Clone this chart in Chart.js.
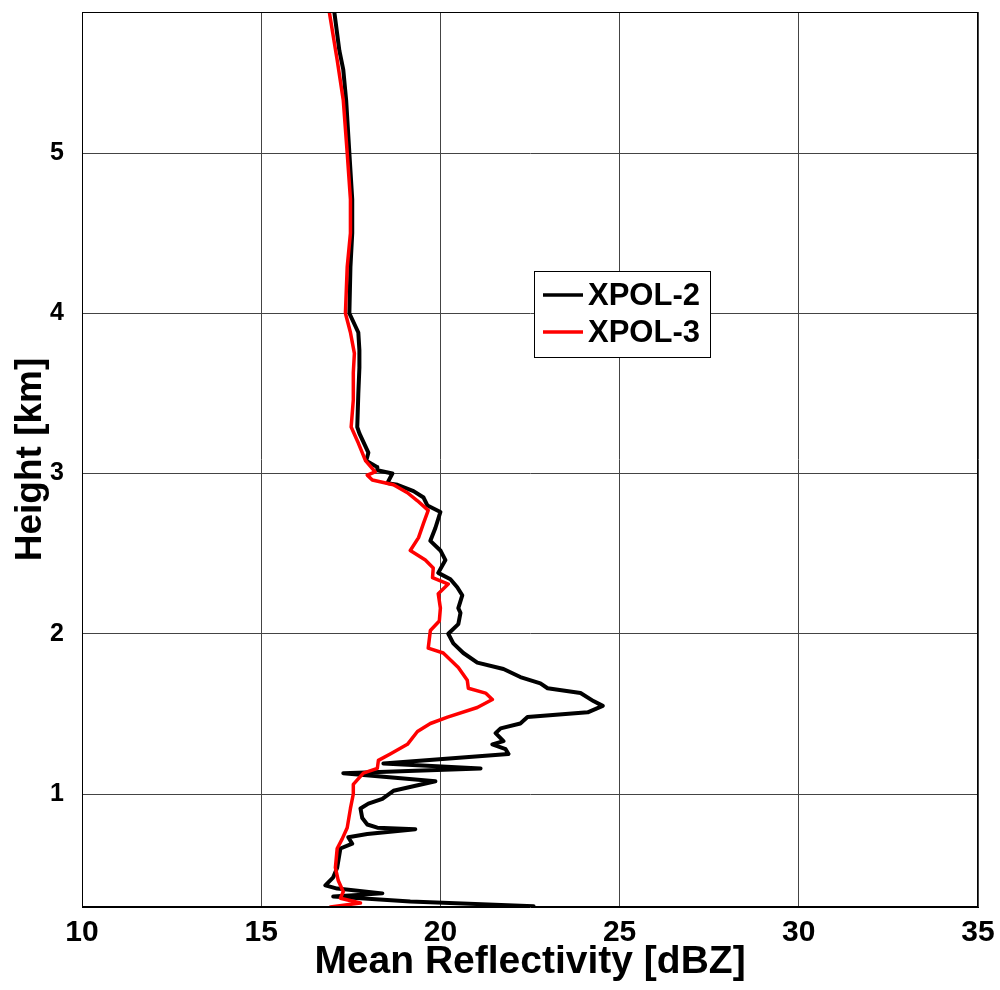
<!DOCTYPE html>
<html>
<head>
<meta charset="utf-8">
<script src="https://cdn.jsdelivr.net/npm/chart.js@4.4.0/dist/chart.umd.min.js"></script>
<style>
  html, body { margin: 0; padding: 0; background: #fff; }
</style>
</head>
<body>
<canvas id="chart" width="1000" height="990"></canvas>
<script>
// Series names and axis ticks
const seriesNames = ["XPOL-2", "XPOL-3"];
const seriesColors = ["#000000", "#ff0000"];
const xTicks = [10, 15, 20, 25, 30, 35];
const yTicks = [1, 2, 3, 4, 5];

// XPOL-2 profile (height km, reflectivity dBZ), read top to bottom
const xpol2Height = [5.88, 5.64, 5.52, 5.33, 5.00, 4.71, 4.50, 4.29, 4.00, 3.88, 3.77, 3.66, 3.50, 3.29, 3.25,
  3.13, 3.08, 3.04, 3.02, 3.00, 2.94, 2.93, 2.89, 2.85, 2.80, 2.76, 2.66, 2.58, 2.52, 2.46, 2.38, 2.34,
  2.29, 2.24, 2.16, 2.13, 2.06, 2.00, 1.94, 1.88, 1.82, 1.78, 1.73, 1.69, 1.66, 1.63, 1.58, 1.55, 1.51,
  1.48, 1.44, 1.41, 1.38, 1.33, 1.31, 1.28, 1.25, 1.19, 1.16, 1.13, 1.08, 1.02, 0.97, 0.94, 0.91, 0.85,
  0.81, 0.79, 0.78, 0.75, 0.73, 0.69, 0.66, 0.54, 0.48, 0.43, 0.41, 0.38, 0.36, 0.35, 0.33, 0.30];
const xpol2Refl = [17.04, 17.18, 17.29, 17.37, 17.46, 17.54, 17.54, 17.49, 17.46, 17.71, 17.74, 17.74, 17.71, 17.68, 17.74,
  17.99, 17.93, 18.24, 18.24, 18.66, 18.52, 18.80, 19.25, 19.53, 19.64, 20.00, 19.86, 19.72, 20.00, 20.14, 19.94, 20.28,
  20.47, 20.61, 20.50, 20.56, 20.50, 20.22, 20.36, 20.64, 21.03, 21.76, 22.23, 22.79, 22.99, 23.91, 24.27, 24.53, 24.11,
  22.43, 22.23, 21.68, 21.54, 21.76, 21.45, 21.82, 21.90, 18.41, 21.12, 17.29, 19.86, 18.69, 18.38, 17.99, 17.77, 17.82,
  17.96, 18.24, 19.30, 17.96, 17.43, 17.54, 17.21, 17.12, 17.01, 16.79, 17.12, 18.38, 17.01, 17.77, 19.16, 22.60];

// XPOL-3 profile
const xpol3Height = [5.88, 5.58, 5.33, 5.00, 4.71, 4.50, 4.29, 4.00, 3.88, 3.75, 3.63, 3.46, 3.29, 3.19, 3.08,
  3.01, 2.99, 2.96, 2.93, 2.88, 2.83, 2.77, 2.69, 2.60, 2.52, 2.46, 2.41, 2.35, 2.31, 2.25, 2.16, 2.08,
  2.02, 1.91, 1.88, 1.79, 1.71, 1.66, 1.63, 1.59, 1.54, 1.48, 1.44, 1.39, 1.31, 1.25, 1.21, 1.16, 1.13,
  1.06, 1.00, 0.91, 0.79, 0.72, 0.66, 0.54, 0.46, 0.39, 0.35, 0.32, 0.295];
const xpol3Refl = [16.90, 17.12, 17.29, 17.40, 17.49, 17.49, 17.40, 17.35, 17.49, 17.60, 17.57, 17.57, 17.51, 17.71, 17.91,
  18.18, 17.96, 18.10, 18.69, 19.08, 19.36, 19.66, 19.53, 19.39, 19.16, 19.58, 19.80, 19.78, 20.22, 19.94, 20.00, 19.97,
  19.72, 19.66, 20.08, 20.50, 20.75, 20.78, 21.26, 21.45, 21.03, 20.20, 19.72, 19.36, 19.08, 18.60, 18.27, 18.24, 17.85,
  17.57, 17.57, 17.49, 17.40, 17.26, 17.12, 17.07, 17.15, 17.29, 17.21, 17.77, 16.93];

const FONT = '"Liberation Sans", Arial, sans-serif';

function toPoints(heights, values) {
  return heights.map((h, i) => ({ x: values[i], y: h }));
}

// Box around the plot area (top and right edges too)
const framePlugin = {
  id: "frame",
  afterDatasetsDraw(chart) {
    const { ctx, chartArea: a } = chart;
    ctx.save();
    ctx.strokeStyle = "#000";
    ctx.lineWidth = 1;
    ctx.strokeRect(Math.round(a.left) + 0.5, Math.round(a.top) + 0.5,
      Math.round(a.right - a.left) - 1, Math.round(a.bottom - a.top) - 1);
    ctx.restore();
  }
};

// Boxed legend placed inside the plot
const legendPlugin = {
  id: "boxLegend",
  afterDraw(chart) {
    const ctx = chart.ctx;
    const bx = 534, by = 271, bw = 176, bh = 86;
    ctx.save();
    ctx.fillStyle = "#fff";
    ctx.fillRect(bx, by, bw, bh);
    ctx.strokeStyle = "#000";
    ctx.lineWidth = 1;
    ctx.strokeRect(bx + 0.5, by + 0.5, bw, bh);
    ctx.font = "bold 31px " + FONT;
    ctx.textBaseline = "middle";
    seriesNames.forEach((name, i) => {
      const yy = by + 24 + i * 37;
      ctx.strokeStyle = seriesColors[i];
      ctx.lineWidth = 3.5;
      ctx.beginPath();
      ctx.moveTo(bx + 9, yy);
      ctx.lineTo(bx + 49, yy);
      ctx.stroke();
      ctx.fillStyle = "#000";
      ctx.fillText(name, bx + 54, yy + 1);
    });
    ctx.restore();
  }
};

new Chart(document.getElementById("chart"), {
  type: "scatter",
  data: {
    datasets: [
      { label: seriesNames[0], data: toPoints(xpol2Height, xpol2Refl), showLine: true,
        borderColor: seriesColors[0], borderWidth: 4, pointRadius: 0, order: 1 },
      { label: seriesNames[1], data: toPoints(xpol3Height, xpol3Refl), showLine: true,
        borderColor: seriesColors[1], borderWidth: 3.5, pointRadius: 0, order: 0 }
    ]
  },
  options: {
    responsive: false,
    animation: false,
    devicePixelRatio: 1,
    layout: { padding: { top: 12, right: 22, left: 0, bottom: 0 } },
    plugins: { legend: { display: false }, tooltip: { enabled: false } },
    elements: { line: { tension: 0, borderJoinStyle: "round", borderCapStyle: "round" } },
    scales: {
      x: {
        type: "linear", min: 10, max: 35,
        afterBuildTicks: s => { s.ticks = xTicks.map(v => ({ value: v })); },
        afterFit: s => { s.height = 83; s.paddingLeft = 0; s.paddingRight = 0; },
        grid: { color: "#444", lineWidth: 1, drawTicks: false },
        border: { color: "#000", width: 1 },
        ticks: { color: "#000", padding: 8, font: { family: FONT, size: 30, weight: "bold" } },
        title: { display: true, text: "Mean Reflectivity [dBZ]", color: "#000",
          padding: { top: 0, bottom: 4 }, font: { family: FONT, size: 39, weight: "bold" } }
      },
      y: {
        type: "linear", min: 0.295, max: 5.88,
        afterBuildTicks: s => { s.ticks = yTicks.map(v => ({ value: v })); },
        afterFit: s => { s.width = 82; s.paddingTop = 0; s.paddingBottom = 0; },
        grid: { color: "#444", lineWidth: 1, drawTicks: false },
        border: { color: "#000", width: 1 },
        ticks: { color: "#000", padding: 18, font: { family: FONT, size: 25, weight: "bold" } },
        title: { display: true, text: "Height [km]", color: "#000",
          padding: { top: 9, bottom: 0 }, font: { family: FONT, size: 37, weight: "bold" } }
      }
    }
  },
  plugins: [framePlugin, legendPlugin]
});
</script>
</body>
</html>
